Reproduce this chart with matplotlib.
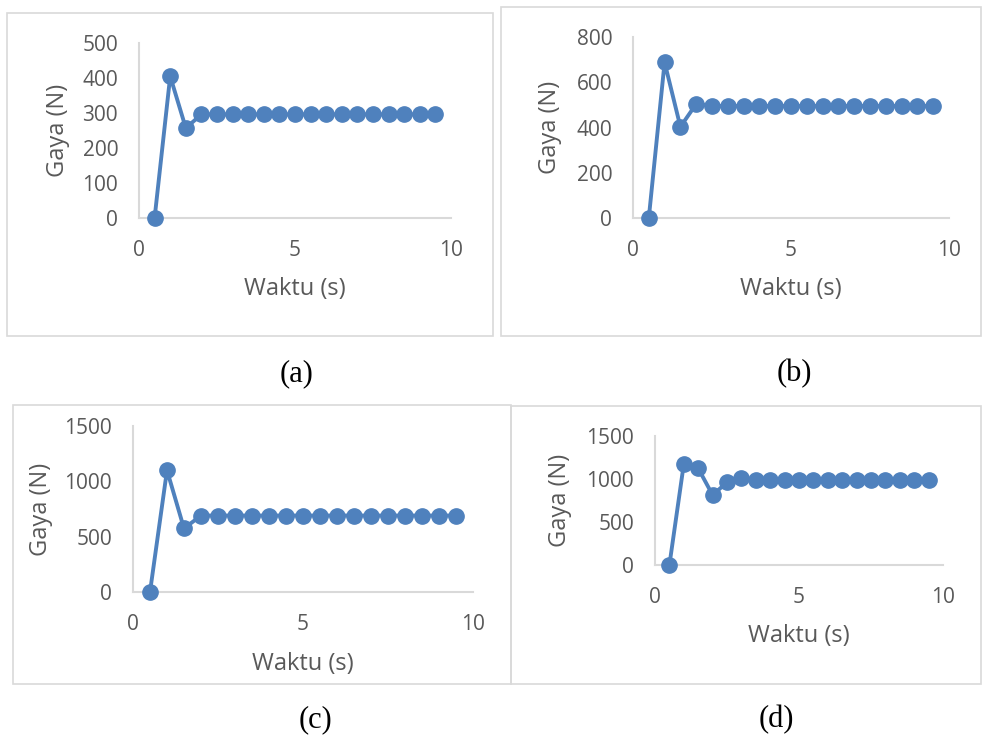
import matplotlib
matplotlib.use("Agg")
import matplotlib.pyplot as plt
from matplotlib.patches import Rectangle

W, H = 982, 738

waktu = [0.5, 1.0, 1.5, 2.0, 2.5, 3.0, 3.5, 4.0, 4.5, 5.0,
         5.5, 6.0, 6.5, 7.0, 7.5, 8.0, 8.5, 9.0, 9.5]
gaya_a = [0, 405, 257, 296, 296, 296, 296, 296, 296, 296,
          296, 296, 296, 296, 296, 296, 296, 296, 296]
gaya_b = [0, 688, 403, 504, 495, 495, 495, 495, 495, 495,
          495, 495, 495, 495, 495, 495, 495, 495, 495]
gaya_c = [0, 1100, 574, 691, 691, 691, 691, 691, 691, 691,
          691, 691, 691, 691, 691, 691, 691, 691, 691]
gaya_d = [0, 1174, 1124, 814, 961, 1016, 984, 984, 984, 984,
          984, 984, 984, 984, 984, 984, 984, 984, 984]

yticks_a = [0, 100, 200, 300, 400, 500]
yticks_b = [0, 200, 400, 600, 800]
yticks_c = [0, 500, 1000, 1500]
yticks_d = [0, 500, 1000, 1500]
xticks = [0, 5, 10]
labels = ["(a)", "(b)", "(c)", "(d)"]

blue = "#4f81bd"
grey_txt = "#595959"
grey_line = "#d9d9d9"

plt.rcParams["font.family"] = ["Open Sans", "DejaVu Sans"]

fig = plt.figure(figsize=(W / 100, H / 100), dpi=100)


def px(x, y):
    # pixel (top-left origin) -> figure fraction
    return x / W, 1 - y / H


# panel layout in pixels: frame box, axes box, y label right edge, x label top, caption pos
panels = [
    dict(y=gaya_a, yt=yticks_a, frame=(7, 13, 493, 336), ax=(139, 43, 451, 218),
         ylab=70, xlab=277, cap=(297, 374)),
    dict(y=gaya_b, yt=yticks_b, frame=(501, 7, 981, 336), ax=(633, 37, 949, 218),
         ylab=562, xlab=277, cap=(794, 374)),
    dict(y=gaya_c, yt=yticks_c, frame=(13, 405, 511, 684), ax=(133, 426, 473, 592),
         ylab=53, xlab=652, cap=(315, 720)),
    dict(y=gaya_d, yt=yticks_d, frame=(511, 406, 981, 684), ax=(655, 436, 943, 565),
         ylab=572, xlab=624, cap=(776, 720)),
]

for p, lab in zip(panels, labels):
    x0, y0, x1, y1 = p["frame"]
    fx, fy = px(x0, y1)
    fig.patches.append(Rectangle((fx, fy), (x1 - x0) / W, (y1 - y0) / H,
                                 transform=fig.transFigure, fill=False,
                                 edgecolor=grey_line, linewidth=1.2))

    a0, b0, a1, b1 = p["ax"]
    lx, ly = px(a0, b1)
    ax = fig.add_axes([lx, ly, (a1 - a0) / W, (b1 - b0) / H])
    ax.plot(waktu, p["y"], color=blue, linewidth=2.8, marker="o",
            markersize=11, clip_on=False, zorder=3)
    ax.set_xlim(0, 10)
    ax.set_ylim(p["yt"][0], p["yt"][-1])
    ax.set_xticks(xticks)
    ax.set_yticks(p["yt"])
    for s in ["top", "right"]:
        ax.spines[s].set_visible(False)
    for s in ["left", "bottom"]:
        ax.spines[s].set_color(grey_line)
        ax.spines[s].set_linewidth(1.5)
    ax.tick_params(axis="both", length=0, labelsize=15, labelcolor=grey_txt)
    ax.tick_params(axis="x", pad=16)
    ax.tick_params(axis="y", pad=15)
    ax.patch.set_alpha(0)

    ax.set_xlabel("Waktu (s)", fontsize=17, color=grey_txt)
    ax.set_ylabel("Gaya (N)", fontsize=17, color=grey_txt)
    ax.xaxis.set_label_coords(*px((a0 + a1) / 2, p["xlab"]), transform=fig.transFigure)
    ax.yaxis.set_label_coords(*px(p["ylab"], (b0 + b1) / 2), transform=fig.transFigure)

    cx, cy = px(*p["cap"])
    fig.text(cx, cy, lab, ha="center", va="center", fontsize=22,
             family="Liberation Serif", color="black")

fig.savefig("out.png", dpi=100)
